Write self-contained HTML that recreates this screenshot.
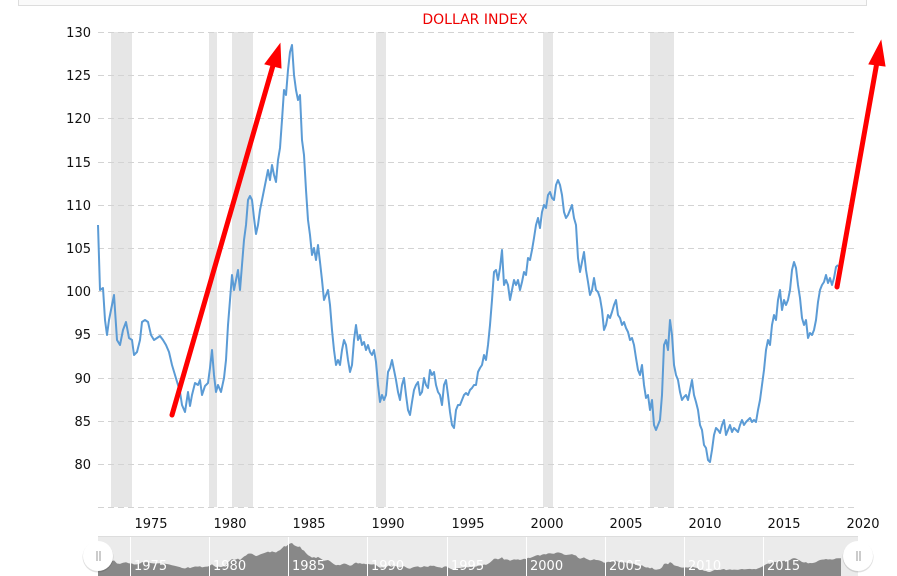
<!DOCTYPE html>
<html><head><meta charset="utf-8"><style>
html,body{margin:0;padding:0;background:#fff;}
svg{display:block;font-family:"DejaVu Sans","Liberation Sans",sans-serif;}
</style></head><body>
<svg width="897" height="576" viewBox="0 0 897 576" xmlns="http://www.w3.org/2000/svg">
<rect x="18.5" y="-2" width="848" height="7.5" fill="#fafafa" stroke="#ddd"/>
<text x="475" y="24" fill="#e00" font-size="14" text-anchor="middle">DOLLAR INDEX</text>
<g fill="#e6e6e6">
<rect x="111" y="32" width="21" height="475"/>
<rect x="209" y="32" width="8" height="475"/>
<rect x="232" y="32" width="21" height="475"/>
<rect x="376" y="32" width="10" height="475"/>
<rect x="543" y="32" width="10" height="475"/>
<rect x="650" y="32" width="24" height="475"/>
</g>
<g stroke="#d3d3d3" stroke-dasharray="6,4" stroke-width="1">
<line x1="98" x2="854" y1="32.5" y2="32.5"/><line x1="98" x2="854" y1="75.5" y2="75.5"/>
<line x1="98" x2="854" y1="118.5" y2="118.5"/><line x1="98" x2="854" y1="162.5" y2="162.5"/>
<line x1="98" x2="854" y1="205.5" y2="205.5"/><line x1="98" x2="854" y1="248.5" y2="248.5"/>
<line x1="98" x2="854" y1="291.5" y2="291.5"/><line x1="98" x2="854" y1="334.5" y2="334.5"/>
<line x1="98" x2="854" y1="378.5" y2="378.5"/><line x1="98" x2="854" y1="421.5" y2="421.5"/>
<line x1="98" x2="854" y1="464.5" y2="464.5"/><line x1="98" x2="854" y1="507.5" y2="507.5"/>
</g>
<g font-size="13" fill="#111" text-anchor="end">
<text x="91" y="37">130</text><text x="91" y="80">125</text><text x="91" y="123">120</text>
<text x="91" y="167">115</text><text x="91" y="210">110</text><text x="91" y="253">105</text>
<text x="91" y="296">100</text><text x="91" y="339">95</text><text x="91" y="383">90</text>
<text x="91" y="426">85</text><text x="91" y="469">80</text>
</g>
<g font-size="13" fill="#111" text-anchor="middle">
<text x="151" y="528">1975</text><text x="230" y="528">1980</text><text x="309" y="528">1985</text>
<text x="388" y="528">1990</text><text x="468" y="528">1995</text><text x="547" y="528">2000</text>
<text x="626" y="528">2005</text><text x="705" y="528">2010</text><text x="784" y="528">2015</text>
<text x="863" y="528">2020</text>
</g>
<defs>
<polyline id="s" points="98,225 100,290 103,288 105,320 107,335 109,320 112,305 114,295 117,340 120,345 123,330 126,322 129,338 132,340 134,355 137,352 140,340 142,322 145,320 148,322 151,335 154,340 157,338 160,336 163,340 166,345 169,352 172,365 175,375 178,385 180,392 182,405 185,412 188,392 190,406 192,395 195,383 198,385 200,380 202,395 205,386 208,383 210,368 212,350 214,375 216,392 218,385 221,392 224,378 226,360 228,325 230,300 232,275 234,290 236,280 238,270 240,290 242,265 244,240 246,225 248,200 250,196 252,200 254,218 256,234 258,225 260,210 262,200 264,190 266,180 268,170 270,180 272,165 274,175 276,182 278,160 280,148 282,120 284,90 286,95 288,70 290,52 292,45 294,75 296,90 298,100 300,95 302,140 304,155 306,190 308,220 310,235 312,255 314,248 316,260 318,245 320,262 322,280 324,300 326,295 328,290 330,305 332,330 334,350 336,365 338,360 340,365 342,350 344,340 346,345 348,360 350,372 352,365 354,340 356,325 358,340 360,335 362,345 364,342 366,350 368,345 370,352 372,355 374,350 376,362 378,385 380,402 382,395 384,400 386,395 388,372 390,368 392,360 394,370 396,380 398,392 400,400 402,385 404,378 406,395 408,410 410,415 412,402 414,390 416,385 418,382 420,395 422,392 424,378 426,385 428,388 430,370 432,375 434,372 436,385 438,392 440,395 442,405 444,385 446,380 448,395 450,412 452,425 454,428 456,410 458,405 460,405 462,400 464,395 466,393 468,395 470,390 472,388 474,385 476,385 478,372 480,368 482,365 484,355 486,360 488,345 490,325 492,300 494,272 496,270 498,280 500,268 502,250 504,285 506,280 508,285 510,300 512,290 514,280 516,285 518,280 520,290 522,282 524,272 526,275 528,258 530,260 532,250 534,238 536,225 538,218 540,228 542,212 544,205 546,208 548,195 550,192 552,198 554,200 556,185 558,180 560,185 562,195 564,212 566,218 568,215 570,210 572,205 574,218 576,225 578,258 580,272 582,262 584,252 586,270 588,282 590,295 592,290 594,278 596,290 598,292 600,298 602,310 604,330 606,325 608,315 610,318 612,312 614,305 616,300 618,315 620,318 622,325 624,322 626,328 628,332 630,340 632,338 634,345 636,358 638,370 640,375 642,365 644,385 646,398 648,395 650,410 652,400 654,425 656,430 658,425 660,420 662,395 664,345 666,340 668,350 670,320 672,335 674,365 676,375 678,380 680,392 682,400 684,397 686,395 688,400 690,390 692,380 694,395 696,402 698,410 700,425 702,430 704,445 706,448 708,460 710,462 712,450 714,435 716,428 718,430 720,433 722,425 724,420 726,435 728,430 730,425 732,432 734,428 736,430 738,432 740,425 742,420 744,425 746,422 748,420 750,418 752,422 754,420 756,422 758,410 760,400 762,385 764,370 766,350 768,340 770,345 772,325 774,315 776,320 778,300 780,290 782,310 784,300 786,305 788,300 790,290 792,270 794,262 796,268 798,285 800,298 802,318 804,325 806,320 808,338 810,333 812,335 814,330 816,320 818,302 820,290 822,285 824,282 826,275 828,283 830,278 832,285 834,278 836,267 838,265"/>
</defs>
<use href="#s" fill="none" stroke="#5b9bd5" stroke-width="2" stroke-linejoin="round"/>
<g fill="#f00" stroke="#f00">
<line x1="172" y1="415" x2="274" y2="62" stroke-width="5" stroke-linecap="round"/>
<polygon points="280,44 265,64 281,68" stroke-width="1"/>
<line x1="837" y1="287" x2="877" y2="62" stroke-width="5" stroke-linecap="round"/>
<polygon points="881,41 869,64 885,66" stroke-width="1"/>
</g>
<rect x="98" y="537" width="760" height="39" fill="#ebebeb"/>
<line x1="98" x2="858" y1="536.5" y2="536.5" stroke="#ddd"/>
<g transform="translate(0,539.87) scale(1,0.0695)">
<polygon fill="#888" points="98,520 98,225 100,290 103,288 105,320 107,335 109,320 112,305 114,295 117,340 120,345 123,330 126,322 129,338 132,340 134,355 137,352 140,340 142,322 145,320 148,322 151,335 154,340 157,338 160,336 163,340 166,345 169,352 172,365 175,375 178,385 180,392 182,405 185,412 188,392 190,406 192,395 195,383 198,385 200,380 202,395 205,386 208,383 210,368 212,350 214,375 216,392 218,385 221,392 224,378 226,360 228,325 230,300 232,275 234,290 236,280 238,270 240,290 242,265 244,240 246,225 248,200 250,196 252,200 254,218 256,234 258,225 260,210 262,200 264,190 266,180 268,170 270,180 272,165 274,175 276,182 278,160 280,148 282,120 284,90 286,95 288,70 290,52 292,45 294,75 296,90 298,100 300,95 302,140 304,155 306,190 308,220 310,235 312,255 314,248 316,260 318,245 320,262 322,280 324,300 326,295 328,290 330,305 332,330 334,350 336,365 338,360 340,365 342,350 344,340 346,345 348,360 350,372 352,365 354,340 356,325 358,340 360,335 362,345 364,342 366,350 368,345 370,352 372,355 374,350 376,362 378,385 380,402 382,395 384,400 386,395 388,372 390,368 392,360 394,370 396,380 398,392 400,400 402,385 404,378 406,395 408,410 410,415 412,402 414,390 416,385 418,382 420,395 422,392 424,378 426,385 428,388 430,370 432,375 434,372 436,385 438,392 440,395 442,405 444,385 446,380 448,395 450,412 452,425 454,428 456,410 458,405 460,405 462,400 464,395 466,393 468,395 470,390 472,388 474,385 476,385 478,372 480,368 482,365 484,355 486,360 488,345 490,325 492,300 494,272 496,270 498,280 500,268 502,250 504,285 506,280 508,285 510,300 512,290 514,280 516,285 518,280 520,290 522,282 524,272 526,275 528,258 530,260 532,250 534,238 536,225 538,218 540,228 542,212 544,205 546,208 548,195 550,192 552,198 554,200 556,185 558,180 560,185 562,195 564,212 566,218 568,215 570,210 572,205 574,218 576,225 578,258 580,272 582,262 584,252 586,270 588,282 590,295 592,290 594,278 596,290 598,292 600,298 602,310 604,330 606,325 608,315 610,318 612,312 614,305 616,300 618,315 620,318 622,325 624,322 626,328 628,332 630,340 632,338 634,345 636,358 638,370 640,375 642,365 644,385 646,398 648,395 650,410 652,400 654,425 656,430 658,425 660,420 662,395 664,345 666,340 668,350 670,320 672,335 674,365 676,375 678,380 680,392 682,400 684,397 686,395 688,400 690,390 692,380 694,395 696,402 698,410 700,425 702,430 704,445 706,448 708,460 710,462 712,450 714,435 716,428 718,430 720,433 722,425 724,420 726,435 728,430 730,425 732,432 734,428 736,430 738,432 740,425 742,420 744,425 746,422 748,420 750,418 752,422 754,420 756,422 758,410 760,400 762,385 764,370 766,350 768,340 770,345 772,325 774,315 776,320 778,300 780,290 782,310 784,300 786,305 788,300 790,290 792,270 794,262 796,268 798,285 800,298 802,318 804,325 806,320 808,338 810,333 812,335 814,330 816,320 818,302 820,290 822,285 824,282 826,275 828,283 830,278 832,285 834,278 836,267 838,265 841,265 841,520"/>
</g>
<g stroke="#fff" stroke-width="1">
<line x1="130.5" x2="130.5" y1="537" y2="576"/><line x1="209.5" x2="209.5" y1="537" y2="576"/>
<line x1="288.5" x2="288.5" y1="537" y2="576"/><line x1="367.5" x2="367.5" y1="537" y2="576"/>
<line x1="447.5" x2="447.5" y1="537" y2="576"/><line x1="526.5" x2="526.5" y1="537" y2="576"/>
<line x1="605.5" x2="605.5" y1="537" y2="576"/><line x1="684.5" x2="684.5" y1="537" y2="576"/>
<line x1="763.5" x2="763.5" y1="537" y2="576"/>
</g>
<g font-size="13" fill="#fff">
<text x="134" y="570">1975</text><text x="213" y="570">1980</text><text x="292" y="570">1985</text>
<text x="371" y="570">1990</text><text x="451" y="570">1995</text><text x="530" y="570">2000</text>
<text x="609" y="570">2005</text><text x="688" y="570">2010</text><text x="767" y="570">2015</text>
</g>
<g>
<circle cx="98" cy="557" r="15.5" fill="#000" opacity="0.12"/>
<circle cx="98" cy="556" r="15" fill="#fff"/>
<line x1="97" x2="97" y1="551" y2="561" stroke="#999"/><line x1="100" x2="100" y1="551" y2="561" stroke="#999"/>
<circle cx="858" cy="557" r="15.5" fill="#000" opacity="0.12"/>
<circle cx="858" cy="556" r="15" fill="#fff"/>
<line x1="857" x2="857" y1="551" y2="561" stroke="#999"/><line x1="860" x2="860" y1="551" y2="561" stroke="#999"/>
</g>
</svg>
</body></html>
